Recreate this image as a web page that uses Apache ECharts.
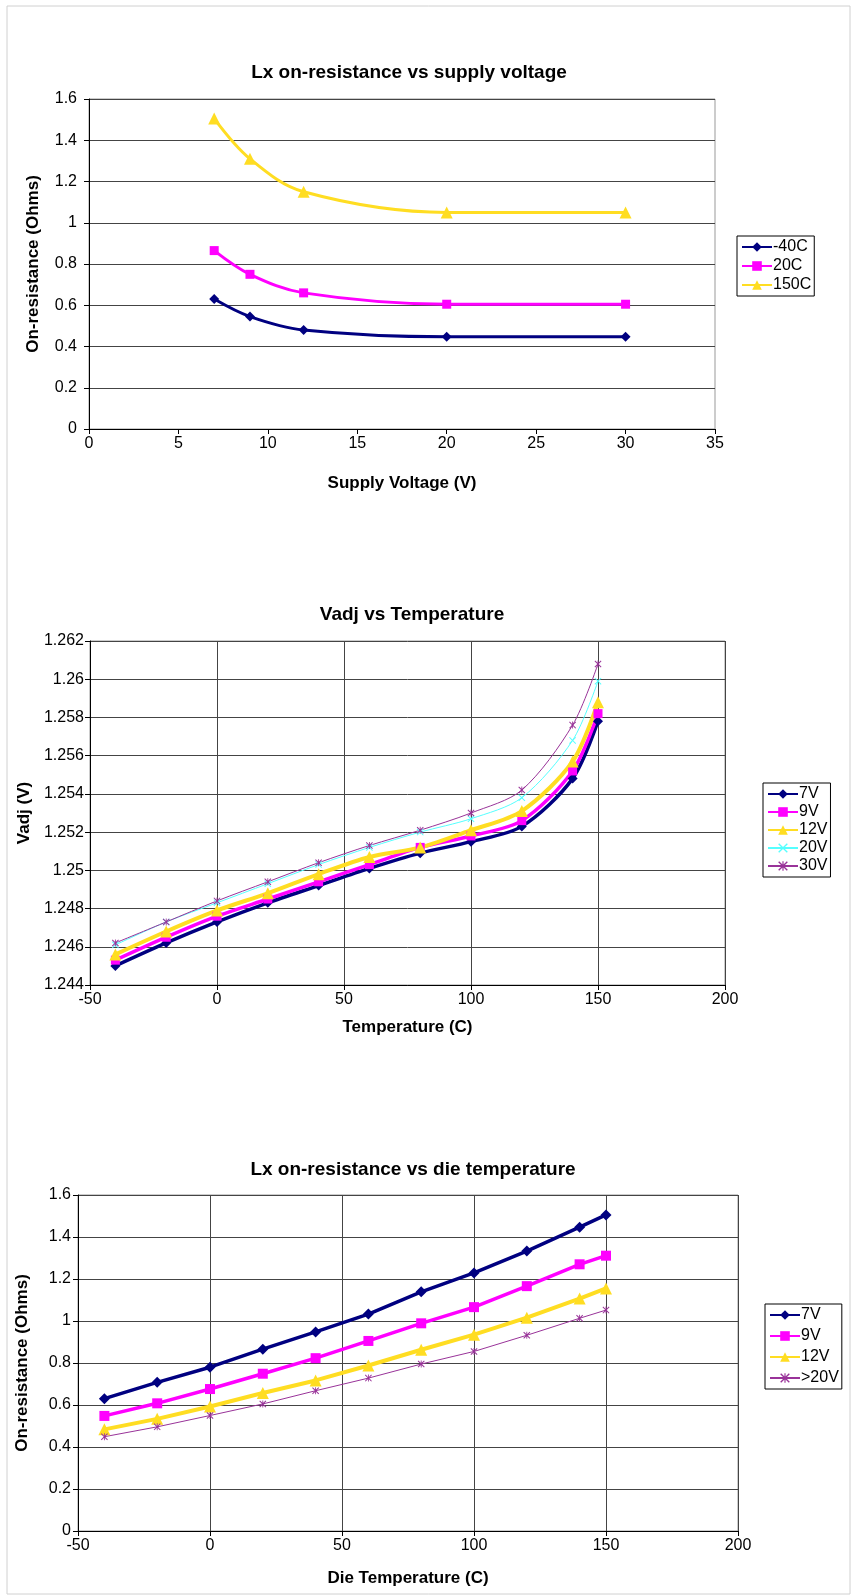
<!DOCTYPE html>
<html><head><meta charset="utf-8">
<script src="https://cdn.jsdelivr.net/npm/echarts@6/dist/echarts.min.js"></script>
<style>html,body{margin:0;padding:0;background:#fff}#c{width:851px;height:1595px}</style>
</head><body><div id="c"></div>
<script>
// Chart 1: on-resistance vs supply voltage
const supplyV = [7, 9, 12, 20, 30];
const ronM40 = [0.63, 0.545, 0.48, 0.447, 0.447];
const ron20C = [0.865, 0.75, 0.66, 0.605, 0.605];
const ron150 = [1.505, 1.31, 1.15, 1.05, 1.05];
// Chart 2: Vadj vs temperature
const temps = [-40, -20, 0, 20, 40, 60, 80, 100, 120, 140, 150];
const vadj7 = [1.2450, 1.2462, 1.2473, 1.2483, 1.2492, 1.2501, 1.2509, 1.2515, 1.2523, 1.2548, 1.2578];
const vadj9 = [1.2453, 1.2465, 1.2476, 1.2485, 1.2494, 1.2503, 1.2512, 1.2518, 1.2526, 1.2552, 1.2582];
const vadj12 = [1.2456, 1.2468, 1.2479, 1.2488, 1.2498, 1.2507, 1.2512, 1.2521, 1.2531, 1.2557, 1.2588];
const vadj20 = [1.2461, 1.2473, 1.2483, 1.2493, 1.2503, 1.2512, 1.2520, 1.2527, 1.2538, 1.2568, 1.2599];
const vadj30 = [1.2462, 1.2473, 1.2484, 1.2494, 1.2504, 1.2513, 1.2521, 1.2530, 1.2542, 1.2576, 1.2608];
// Chart 3: on-resistance vs die temperature
const ronT7 = [0.63, 0.708, 0.78, 0.866, 0.948, 1.033, 1.139, 1.229, 1.333, 1.447, 1.505];
const ronT9 = [0.548, 0.608, 0.676, 0.749, 0.823, 0.905, 0.989, 1.066, 1.166, 1.27, 1.311];
const ronT12 = [0.484, 0.534, 0.593, 0.657, 0.717, 0.788, 0.863, 0.935, 1.016, 1.107, 1.155];
const ronT20 = [0.449, 0.496, 0.55, 0.605, 0.668, 0.728, 0.795, 0.855, 0.932, 1.013, 1.052];

const FONT = 'Liberation Sans, Arial, sans-serif';
const NAVY = '#000080', MAG = '#FF00FF', YEL = '#FFDD22', CYAN = '#55FFFF', PURP = '#993399';
const XSYM = 'path://M0,1L1,0L5,4L9,0L10,1L6,5L10,9L9,10L5,6L1,10L0,9L4,5Z';
const STAR = 'path://M0,1L1,0L5,4L9,0L10,1L6,5L10,9L9,10L5,6L1,10L0,9L4,5ZM4.4,0L5.6,0L5.6,10L4.4,10Z';

function pairs(xs, ys) { return xs.map((x, i) => [x, ys[i]]); }

function ser(name, idx, xs, ys, color, symbol, size, width, smooth) {
  return {
    name, type: 'line', xAxisIndex: idx, yAxisIndex: idx,
    data: pairs(xs, ys), smooth: smooth, symbol, symbolSize: size,
    lineStyle: { color, width }, itemStyle: { color },
    emphasis: { disabled: true }
  };
}

const gridLine = { show: true, lineStyle: { color: '#444', width: 1 } };
const axLbl = { color: '#000', fontSize: 16, fontFamily: FONT };
const nameSt = { color: '#000', fontSize: 17, fontWeight: 'bold', fontFamily: FONT };

function xAx(idx, min, max, interval, name, gap, vGrid) {
  return {
    type: 'value', gridIndex: idx, min, max, interval, name, nameLocation: 'middle', nameGap: gap,
    nameTextStyle: nameSt,
    axisLine: { show: true, onZero: false, lineStyle: { color: '#000', width: 1 } },
    axisTick: { show: true, inside: false, length: 5, lineStyle: { color: '#000' } },
    axisLabel: Object.assign({ margin: 7 }, axLbl),
    splitLine: vGrid ? gridLine : { show: false }
  };
}
function yAx(idx, min, max, interval, name, gap, fmt, margin) {
  return {
    type: 'value', gridIndex: idx, min, max, interval, name, nameLocation: 'middle', nameGap: gap,
    nameTextStyle: nameSt,
    axisLine: { show: true, onZero: false, lineStyle: { color: '#000', width: 1 } },
    axisTick: { show: true, inside: false, length: 5, lineStyle: { color: '#000' } },
    axisLabel: Object.assign({ margin, formatter: fmt }, axLbl),
    splitLine: gridLine
  };
}
const fmt3 = v => String(parseFloat(v.toFixed(3)));
const fmt1 = v => String(parseFloat(v.toFixed(1)));

function legend(names, left, top, gap) {
  return {
    data: names, orient: 'vertical', left, top, itemGap: gap, itemWidth: 30, itemHeight: 12,
    borderColor: '#000', borderWidth: 1, padding: [3, 3, 3, 4], borderRadius: 0,
    textStyle: { color: '#000', fontSize: 16, fontFamily: FONT, padding: [0, 0, 0, -4] },
    selectedMode: false
  };
}

const titleSt = { color: '#000', fontSize: 19, fontWeight: 'bold', fontFamily: FONT };

const option = {
  animation: false,
  backgroundColor: '#fff',
  graphic: [{ type: 'rect', shape: { x: 7, y: 6, width: 843, height: 1588 }, style: { fill: 'none', stroke: '#d0d0d0', lineWidth: 1 }, silent: true }],
  title: [
    { text: 'Lx on-resistance vs supply voltage', left: 404, top: 58, textAlign: 'center', textStyle: titleSt },
    { text: 'Vadj vs Temperature', left: 407, top: 600, textAlign: 'center', textStyle: titleSt },
    { text: 'Lx on-resistance vs die temperature', left: 408, top: 1155, textAlign: 'center', textStyle: titleSt }
  ],
  grid: [
    { left: 89, top: 99, width: 626, height: 330, show: true, borderColor: '#999', borderWidth: 1 },
    { left: 90, top: 641, width: 635, height: 344, show: true, borderColor: '#999', borderWidth: 1 },
    { left: 78, top: 1195, width: 660, height: 336, show: true, borderColor: '#999', borderWidth: 1 }
  ],
  xAxis: [
    xAx(0, 0, 35, 5, 'Supply Voltage (V)', 46, false),
    xAx(1, -50, 200, 50, 'Temperature (C)', 34, true),
    xAx(2, -50, 200, 50, 'Die Temperature (C)', 39, true)
  ],
  yAxis: [
    yAx(0, 0, 1.6, 0.2, 'On-resistance (Ohms)', 47, fmt1, 12),
    yAx(1, 1.244, 1.262, 0.002, 'Vadj (V)', 46, fmt3, 6),
    yAx(2, 0, 1.6, 0.2, 'On-resistance (Ohms)', 47, fmt1, 7)
  ],
  legend: [
    legend(['-40C', '20C', '150C'], 737, 236, 3),
    legend(['7V', '9V', '12V', '20V', '30V'], 763, 783, 2),
    legend(['7V ', '9V ', '12V ', '>20V'], 765, 1304, 5)
  ],
  series: [
    ser('-40C', 0, supplyV, ronM40, NAVY, 'diamond', 10, 3, 0.35),
    ser('20C', 0, supplyV, ron20C, MAG, 'rect', 9, 3, 0.35),
    ser('150C', 0, supplyV, ron150, YEL, 'triangle', 12, 3, 0.35),

    ser('7V', 1, temps, vadj7, NAVY, 'diamond', 10, 3.5, 0.3),
    ser('9V', 1, temps, vadj9, MAG, 'rect', 9, 3.5, 0.3),
    ser('12V', 1, temps, vadj12, YEL, 'triangle', 12, 4, 0.3),
    ser('20V', 1, temps, vadj20, CYAN, XSYM, 7, 1, 0.3),
    ser('30V', 1, temps, vadj30, PURP, STAR, 7, 1, 0.3),

    ser('7V ', 2, temps, ronT7, NAVY, 'diamond', 11, 3.5, false),
    ser('9V ', 2, temps, ronT9, MAG, 'rect', 10, 3.5, false),
    ser('12V ', 2, temps, ronT12, YEL, 'triangle', 12, 4, false),
    ser('>20V', 2, temps, ronT20, PURP, STAR, 7, 1, false)
  ]
};
const chart = echarts.init(document.getElementById('c'), null, { renderer: 'canvas' });
chart.setOption(option);
</script></body></html>
